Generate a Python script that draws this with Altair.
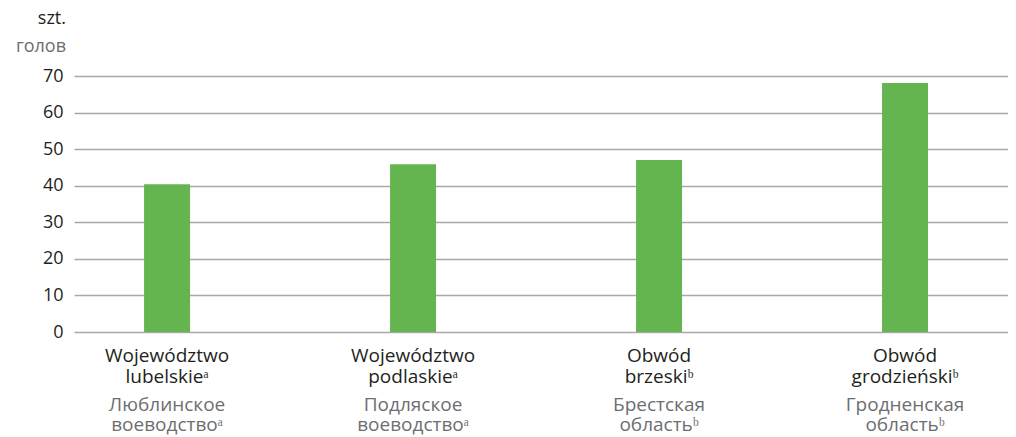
import altair as alt
import pandas as pd

pl_line1 = ["Województwo", "Województwo", "Obwód", "Obwód"]
pl_line2 = ["lubelskieᵃ", "podlaskieᵃ", "brzeskiᵇ", "grodzieńskiᵇ"]
ru_line1 = ["Люблинское", "Подляское", "Брестская", "Гродненская"]
ru_line2 = ["воеводствоᵃ", "воеводствоᵃ", "областьᵇ", "областьᵇ"]
values = [40.4, 45.9, 47.0, 68.1]
y_ticks = [0, 10, 20, 30, 40, 50, 60, 70]
unit_pl = "szt."
unit_ru = "голов"

df = pd.DataFrame({
    "key": [a + "|" + b for a, b in zip(pl_line1, pl_line2)],
    "ru": [a + "\n" + b for a, b in zip(ru_line1, ru_line2)],
    "value": values,
})
order = list(df["key"])

FONT = "Open Sans"
BLACK = "#231f20"
GRAY = "#6d6e71"

x_enc = alt.X(
    "key:N", sort=order, title=None,
    scale=alt.Scale(paddingInner=0.813, paddingOuter=0.305, align=0.467),
    axis=alt.Axis(labelExpr="split(datum.label, '|')", labelAngle=0, domain=False,
                  ticks=False, labelFontSize=19, labelColor=BLACK, labelFont=FONT,
                  labelPadding=14, labelLineHeight=21, labelBaseline="top"),
)

bars = alt.Chart(df).mark_bar(color="#64b450").encode(
    x=x_enc,
    y=alt.Y("value:Q", title=None,
            scale=alt.Scale(domain=[0, 70]),
            axis=alt.Axis(values=y_ticks, domain=False, ticks=False, labelFontSize=18,
                          labelColor=BLACK, labelFont=FONT, labelPadding=11,
                          gridColor="#a7a9ac", gridWidth=1.5)),
)

ru = alt.Chart(df).mark_text(
    color=GRAY, font=FONT, fontSize=19, lineBreak="\n", lineHeight=20,
    baseline="alphabetic", align="center",
).encode(
    x=alt.X("key:N", sort=order),
    y=alt.value(335),
    text="ru:N",
)

units = pd.DataFrame({"t": [unit_pl]})
t1 = alt.Chart(units).mark_text(
    color=BLACK, font=FONT, fontSize=18, align="right", baseline="alphabetic"
).encode(x=alt.value(-8), y=alt.value(-52), text="t:N")
units2 = pd.DataFrame({"t": [unit_ru]})
t2 = alt.Chart(units2).mark_text(
    color=GRAY, font=FONT, fontSize=18, align="right", baseline="alphabetic"
).encode(x=alt.value(-8), y=alt.value(-24), text="t:N")

chart = alt.layer(bars, ru, t1, t2).properties(
    width=934, height=256,
    autosize="none",
    padding={"left": 66, "top": 68, "right": 0, "bottom": 105},
).configure_view(stroke=None)

chart.save("out.html", embed_options={"renderer": "svg", "actions": False})
